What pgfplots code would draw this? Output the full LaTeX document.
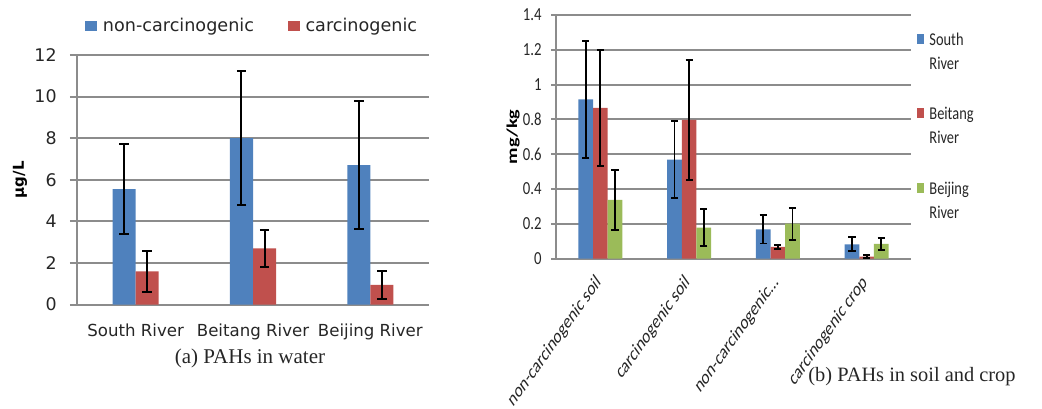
\documentclass[border=0pt]{standalone}
\usepackage{pgfplots}
\pgfplotsset{compat=1.18}
\usepackage{fontspec}
\setmainfont{DejaVu Sans}
\newfontfamily\dvfont{DejaVu Sans}
\newfontfamily\calfont{Carlito}
\newfontfamily\calxfont[FakeStretch=0.8]{Carlito}
\newfontfamily\tmsfont{Liberation Serif}

\definecolor{cblue}{HTML}{4F81BD}
\definecolor{cred}{HTML}{C0504D}
\definecolor{cgreen}{HTML}{9BBB59}
\definecolor{gridc}{HTML}{8C8C8C}
\definecolor{txt}{HTML}{262626}

\begin{document}
\begin{tikzpicture}
\useasboundingbox (0pt,0pt) rectangle (521pt,-204pt);

% (a) water
\begin{axis}[
  at={(38.5pt,-152.3pt)}, anchor=south west, scale only axis,
  width=176pt, height=124.8pt,
  xmin=-0.5, xmax=2.5, ymin=0, ymax=12,
  ybar=0pt, bar width=11.5pt,
  xtick={0,1,2}, xticklabels={South River, Beitang River, Beijing River},
  ytick={0,2,4,6,8,10,12},
  axis x line*=bottom, axis y line*=left,
  axis line style={gridc, line width=1pt, -},
  ymajorgrids, grid style={gridc, line width=1pt},
  tick align=outside, major tick length=3.5pt,
  ytick style={gridc, line width=1pt}, xtick style={draw=none},
  /pgf/number format/assume math mode=true,
  yticklabel style={font=\dvfont\fontsize{8.7}{10}\selectfont, text=txt, inner sep=0pt, xshift=-6.5pt},
  xticklabel style={font=\dvfont\fontsize{8.3}{10}\selectfont, text=txt, inner sep=0pt, yshift=-6pt},
  ylabel={µg/L},
  every axis y label/.style={at={([xshift=-28.5pt]axis description cs:0,0.5)}, rotate=90, anchor=center,
    font=\dvfont\bfseries\fontsize{7.5}{9}\selectfont, text=black},
  legend columns=2,
  legend style={draw=none, fill=none, inner sep=0pt, at={(0.0227,1.116)}, anchor=west,
    font=\dvfont\fontsize{8.8}{10}\selectfont, text=txt,
    nodes={inner sep=0pt, anchor=base west},
    /tikz/every odd column/.append style={column sep=3pt},
    /tikz/every even column/.append style={column sep=17pt}},
  legend image code/.code={\fill[#1] (0pt,0pt) rectangle (5.8pt,5pt);},
]
\addplot[fill=cblue, draw=none,
  error bars/.cd, y dir=both, y explicit, error mark=-,
  error bar style={black, line width=1pt},
  error mark options={black, line width=1pt, mark size=2.35pt, rotate=90}]
  coordinates {(0,5.55) +- (0,2.16) (1,8.0) +- (0,3.22) (2,6.7) +- (0,3.07)};
\addplot[fill=cred, draw=none,
  error bars/.cd, y dir=both, y explicit, error mark=-,
  error bar style={black, line width=1pt},
  error mark options={black, line width=1pt, mark size=2.35pt, rotate=90}]
  coordinates {(0,1.6) +- (0,1.0) (1,2.7) +- (0,0.9) (2,0.95) +- (0,0.68)};
\addlegendentry{non-carcinogenic}
\addlegendentry{carcinogenic}
\end{axis}

% (b) soil and crop
\begin{axis}[
  at={(278pt,-129.35pt)}, anchor=south west, scale only axis,
  width=177.5pt, height=121.85pt,
  xmin=-0.5, xmax=3.5, ymin=0, ymax=1.4,
  ybar=0pt, bar width=7.3pt,
  xtick={0,1,2,3},
  xticklabels={non-carcinogenic soil, carcinogenic soil, non-carcinogenic\ldots, carcinogenic crop},
  ytick={0,0.2,0.4,0.6,0.8,1,1.2,1.4},
  axis x line*=bottom, axis y line*=left,
  axis line style={gridc, line width=1pt, -},
  ymajorgrids, grid style={gridc, line width=1pt},
  tick align=outside, major tick length=2.5pt,
  ytick style={gridc, line width=1pt}, xtick style={draw=none},
  /pgf/number format/assume math mode=true,
  /pgf/number format/fixed,
  yticklabel style={font=\calxfont\fontsize{9.2}{10}\selectfont, text=txt, inner sep=0pt, xshift=-4.5pt},
  xticklabel style={font=\calfont\fontsize{7.3}{9}\selectfont, text=txt, inner sep=0pt,
    yshift=-4.5pt, xshift=-3pt, yscale=1.4, rotate=45, anchor=north east},
  ylabel={mg/kg},
  every axis y label/.style={at={([xshift=-21.5pt]axis description cs:0,0.5)}, anchor=center,
    yscale=1.35, rotate=90, font=\calfont\bfseries\fontsize{7.5}{9}\selectfont, text=black},
  legend style={draw=none, fill=none, inner sep=0pt, at={(1.017,0.928)}, anchor=north west,
    font=\calxfont\fontsize{9}{12}\selectfont, text=txt, row sep=29.5pt,
    nodes={inner sep=0pt, anchor=base west},
    /tikz/every odd column/.append style={column sep=2.5pt}},
  legend image code/.code={\fill[#1] (0pt,0.8pt) rectangle (3.5pt,5.8pt);},
]
\addplot[fill=cblue, draw=none,
  error bars/.cd, y dir=both, y explicit, error mark=-,
  error bar style={black, line width=0.9pt},
  error mark options={black, line width=0.9pt, mark size=1.8pt, rotate=90}]
  coordinates {(0,0.915) +- (0,0.335) (1,0.569) +- (0,0.22) (2,0.168) +- (0,0.081) (3,0.083) +- (0,0.04)};
\addplot[fill=cred, draw=none,
  error bars/.cd, y dir=both, y explicit, error mark=-,
  error bar style={black, line width=0.9pt},
  error mark options={black, line width=0.9pt, mark size=1.8pt, rotate=90}]
  coordinates {(0,0.866) +- (0,0.335) (1,0.797) +- (0,0.344) (2,0.068) +- (0,0.012) (3,0.012) +- (0,0.01)};
\addplot[fill=cgreen, draw=none,
  error bars/.cd, y dir=both, y explicit, error mark=-,
  error bar style={black, line width=0.9pt},
  error mark options={black, line width=0.9pt, mark size=1.8pt, rotate=90}]
  coordinates {(0,0.338) +- (0,0.173) (1,0.179) +- (0,0.106) (2,0.201) +- (0,0.092) (3,0.085) +- (0,0.033)};
\addlegendentry{\vtop{\hbox{South}\hbox{River}}}
\addlegendentry{\vtop{\hbox{Beitang}\hbox{River}}}
\addlegendentry{\vtop{\hbox{Beijing}\hbox{River}}}
\end{axis}

\node[font=\tmsfont\fontsize{10.5}{12}\selectfont, text=txt] at (125pt,-179pt) {(a) PAHs in water};
\node[font=\tmsfont\fontsize{10.2}{12}\selectfont, text=txt] at (456pt,-188.3pt) {(b) PAHs in soil and crop};
\end{tikzpicture}
\end{document}
